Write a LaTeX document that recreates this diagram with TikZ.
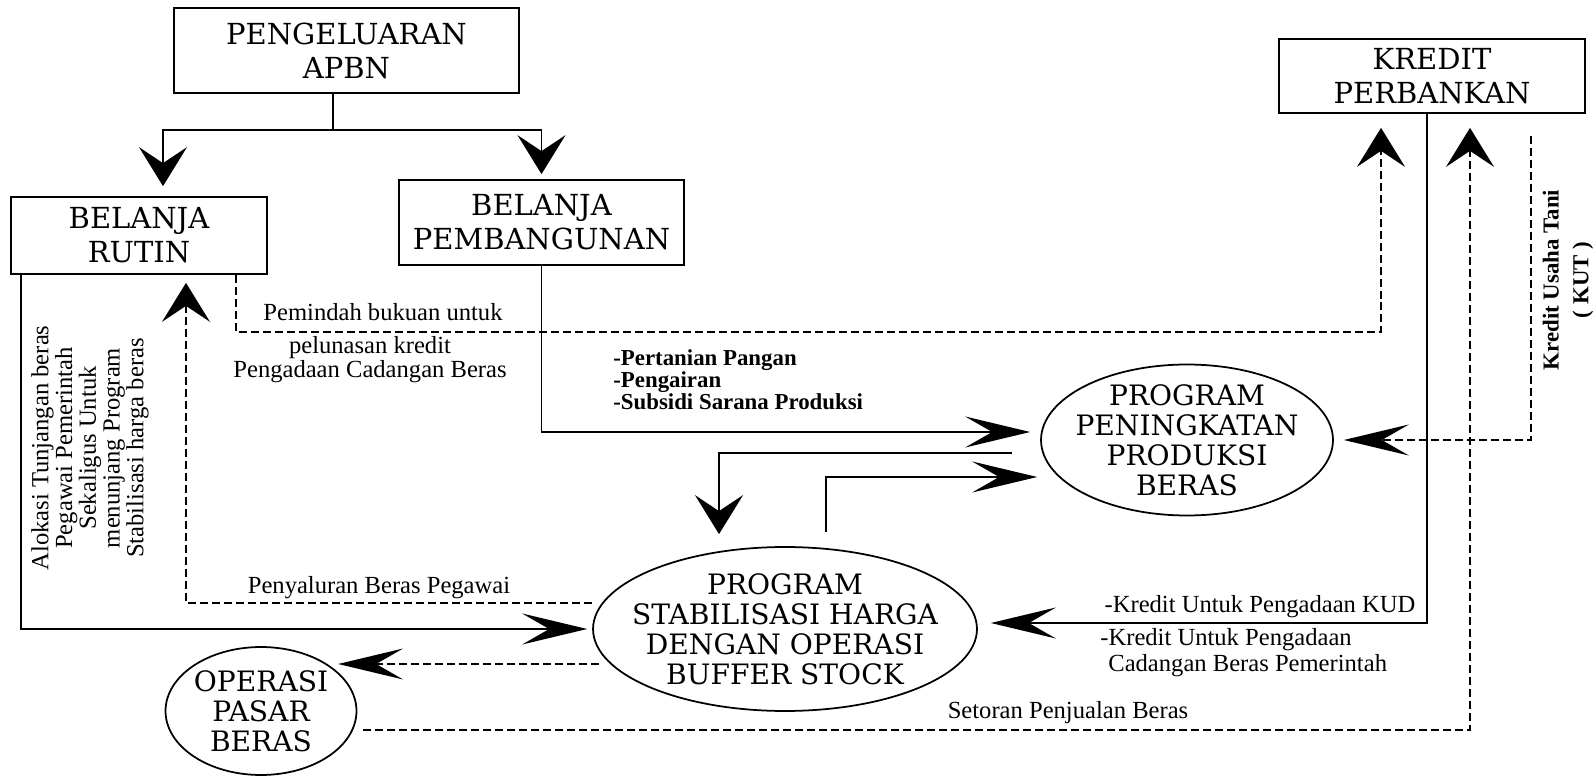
\documentclass[tikz,border=0pt]{standalone}
\usepackage{fontspec}
\setmainfont{Liberation Serif}
\newfontfamily\bigfont{DejaVu Serif}
\usetikzlibrary{arrows.meta,shapes.geometric}

\tikzset{
  kotak/.style={draw, line width=1pt, inner sep=0pt, align=center,
    font=\bigfont\fontsize{16.5}{19.3}\selectfont},
  elips/.style={draw, ellipse, line width=1pt, inner xsep=-1cm, inner ysep=-0.5cm,
    align=center, font=\bigfont\fontsize{16}{17}\selectfont},
  ket/.style={inner sep=0pt, align=center, font=\fontsize{14}{13.7}\selectfont},
  garis/.style={line width=1.1pt},
  putus/.style={line width=1.1pt, dash pattern=on 0.16cm off 0.08cm},
  tipis/.style={line width=0.6pt},
  panahv/.style={-{Stealth[length=0.78cm,width=0.96cm,inset=0.32cm]}},
  panahh/.style={-{Stealth[length=1.3cm,width=0.62cm,inset=0.54cm]}},
}

\begin{document}
\begin{tikzpicture}[x=0.02cm, y=-0.02cm]
    \useasboundingbox (0,0) rectangle (1595,776);

    % kotak anggaran
    \node[kotak, minimum width=6.9cm, minimum height=1.7cm] (apbn) at (346.5,50.5) {PENGELUARAN\\APBN};
    \node[kotak, minimum width=5.12cm, minimum height=1.54cm] (rutin) at (139,235.5) {BELANJA\\RUTIN};
    \node[kotak, minimum width=5.7cm, minimum height=1.7cm] (bangun) at (541.5,222.5) {BELANJA\\PEMBANGUNAN};
    \node[kotak, minimum width=6.12cm, minimum height=1.48cm] (kredit) at (1432,76) {KREDIT\\PERBANKAN};

    % program
    \node[elips, minimum width=5.84cm, minimum height=3.02cm] (prod) at (1187,440) {PROGRAM\\PENINGKATAN\\PRODUKSI\\BERAS};
    \node[elips, minimum width=7.68cm, minimum height=3.28cm] (stab) at (785,629) {PROGRAM\\STABILISASI HARGA\\DENGAN OPERASI\\BUFFER STOCK};
    \node[elips, minimum width=3.82cm, minimum height=2.56cm] (pasar) at (261,711) {OPERASI\\PASAR\\BERAS};

    % APBN ke belanja
    \coordinate (cabang) at (333,130);
    \draw[garis] (apbn.south -| cabang) -- (cabang);
    \draw[garis, panahv, shorten >=0.2cm] (cabang) -| ([xshift=0.48cm]rutin.north);
    \draw[garis, panahv, shorten >=0.1cm] (cabang) -| (bangun.north);

    % belanja rutin
    \draw[garis, panahh, shorten >=0.1cm] ([xshift=0.22cm]rutin.south west) |- (stab.west);
    \draw[putus, panahv, shorten >=0.16cm] ([xshift=-0.2cm]stab.172) -| ([xshift=0.94cm]rutin.south);
    \coordinate (pindah) at (800,332);
    \draw[putus, panahv, shorten >=0.28cm] ([xshift=-0.64cm]rutin.south east) |- (pindah) -| ([xshift=-1.02cm]kredit.south);

    % belanja pembangunan
    \draw[garis, panahh, shorten >=0.2cm] (bangun.south) |- ([yshift=0.16cm]prod.west);
    \draw[tipis, panahv, shorten >=0.24cm] ([xshift=-0.56cm,yshift=-0.26cm]prod.west) -| ([xshift=-1.32cm]stab.north);
    \draw[tipis, panahh, shorten >=0.06cm] ([xshift=0.82cm,yshift=0.28cm]stab.north) |- ([yshift=-0.74cm]prod.west);

    % kredit perbankan
    \draw[garis, panahh, shorten >=0.26cm] ([xshift=-0.1cm]kredit.south) |- ([yshift=0.12cm]stab.east);
    \draw[putus, panahh, shorten >=0.2cm] ([xshift=-1.1cm,yshift=-0.44cm]kredit.south east) |- (prod.east);
    \draw[putus, panahv, shorten >=0.28cm] ([xshift=0.12cm,yshift=-0.38cm]pasar.east) -| ([xshift=0.76cm]kredit.south);

    % operasi pasar
    \coordinate (keluar) at ([xshift=0.14cm,yshift=-0.7cm]stab.west);
    \coordinate (masuk) at ([xshift=0.18cm]pasar.north east);
    \draw[putus, panahh] (keluar) -- (keluar -| masuk);

    % keterangan
    \node[ket] (pindah1) at (383,312) {Pemindah bukuan untuk};
    \node[ket] (pindah2) at (370,360) {pelunasan kredit\\Pengadaan Cadangan Beras};
    \node[ket, align=left, anchor=west, font=\bfseries\fontsize{13}{12.5}\selectfont] (sektor) at (613,380) {-Pertanian Pangan\\-Pengairan\\-Subsidi Sarana Produksi};
    \node[ket] (salur) at (379,588) {Penyaluran Beras Pegawai};
    \node[ket] (kud) at (1260,607) {-Kredit Untuk Pengadaan KUD};
    \node[ket, align=left, anchor=west, font=\fontsize{14}{14.8}\selectfont] (cbp) at (1100,653) {-Kredit Untuk Pengadaan\\\hspace{0.16cm}Cadangan Beras Pemerintah};
    \node[ket] (setor) at (1068,713) {Setoran Penjualan Beras};
    \node[ket, rotate=90, font=\fontsize{14}{13.5}\selectfont] (alokasi) at (90,448) {Alokasi Tunjangan beras\\Pegawai Pemerintah\\Sekaligus Untuk\\menunjang Program\\Stabilisasi harga beras};
    \node[ket, rotate=90, font=\bfseries\fontsize{13}{17}\selectfont] (kut) at (1568,280) {Kredit Usaha Tani\\( KUT )};
\end{tikzpicture}
\end{document}
